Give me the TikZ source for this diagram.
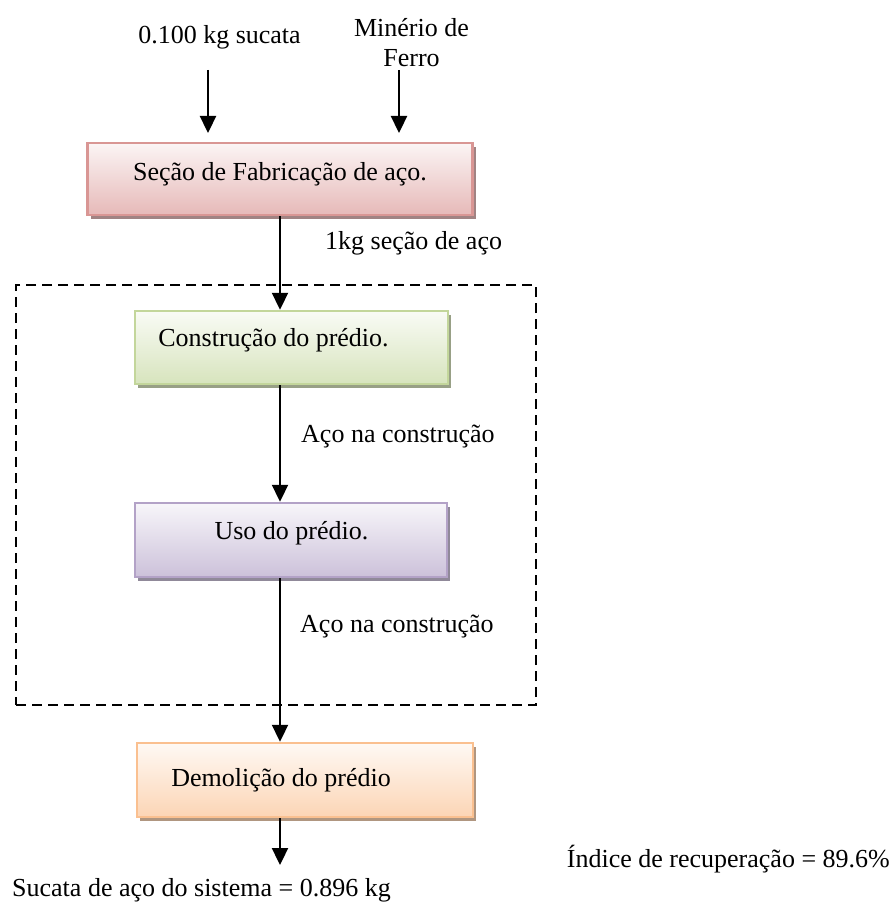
\documentclass[tikz,border=0pt]{standalone}
\usepackage{fontspec}
\setmainfont{Liberation Serif}
\usetikzlibrary{arrows.meta}
\usetikzlibrary{shadows}

\definecolor{rosaline}{HTML}{D99694}
\definecolor{rosafill}{HTML}{E6B9B8}
\definecolor{verdeline}{HTML}{C3D69B}
\definecolor{verdefill}{HTML}{D7E4BD}
\definecolor{roxoline}{HTML}{B3A2C7}
\definecolor{roxofill}{HTML}{CCC1DA}
\definecolor{laranjaline}{HTML}{FAC090}
\definecolor{laranjafill}{HTML}{FCD5B5}

\tikzset{
  caixa/.style={rectangle,line width=2.5pt,draw=#1line,
    top color=#1fill!15,bottom color=#1fill,
    drop shadow={shadow xshift=3pt,shadow yshift=-4pt,fill=#1line!60!black,opacity=0.75}},
  texto/.style={inner sep=0pt,anchor=base}
}

\begin{document}
\begin{tikzpicture}[x=1pt,y=-1pt,font=\fontsize{26}{30}\selectfont]
	\useasboundingbox (0,0) rectangle (894,904);

	\node[draw,dashed,line width=2pt,dash pattern=on 10pt off 6pt,
	      minimum width=520pt,minimum height=420pt] (sistema) at (276,495) {};

	\begin{scope}[every node/.style={inner sep=0pt}]
		\node[caixa=rosa,minimum width=385pt,minimum height=72pt] (fab) at (280,179) {};
		\node[caixa=verde,minimum width=313pt,minimum height=73pt] (cons) at (291.5,347.5) {};
		\node[caixa=roxo,minimum width=312pt,minimum height=74pt] (uso) at (291,540) {};
		\node[caixa=laranja,minimum width=336pt,minimum height=74pt] (demo) at (305,780) {};
	\end{scope}

	\node[texto] (fabtxt) at (280,180) {Seção de Fabricação de aço.};
	\node[texto] (constxt) at (273.5,346) {Construção do prédio.};
	\node[texto] (usotxt) at (291.5,539) {Uso do prédio.};
	\node[texto] (demotxt) at (281,786) {Demolição do prédio};

	\node[texto] (sucata) at (219.5,44) {0.100 kg sucata};
	\node[inner sep=0pt,align=center] (minerio) at (411.5,43) {Minério de\\Ferro};
	\node[texto,anchor=base west] (secao) at (325,249) {1kg seção de aço};
	\node[texto,anchor=base west] (acocons) at (301,442) {Aço na construção};
	\node[texto,anchor=base west] (acouso) at (300,632) {Aço na construção};
	\node[texto,anchor=base west] (saida) at (12,896) {Sucata de aço do sistema = 0.896 kg};
	\node[texto,anchor=base east] (indice) at (890,867) {Índice de recuperação = 89.6\%};

	\coordinate (sucataini) at (208,70);
	\coordinate (sucatafim) at (208,133);
	\coordinate (minerioini) at (399,70);
	\coordinate (mineriofim) at (399,133);
	\coordinate (saidafim) at (280,865);

	\begin{scope}[>={Triangle[width=16pt,length=17pt]},
	              every path/.style={line width=2.3pt}]
		\draw[->] (sucataini) -- (sucatafim);
		\draw[->] (minerioini) -- (mineriofim);
		\draw[->] (fab.south) -- (fab.south |- cons.north);
		\draw[->] (cons.south -| fab.south) -- (fab.south |- uso.north);
		\draw[->] (uso.south -| fab.south) -- (fab.south |- demo.north);
		\draw[->] (demo.south -| fab.south) -- (saidafim);
	\end{scope}
\end{tikzpicture}
\end{document}
